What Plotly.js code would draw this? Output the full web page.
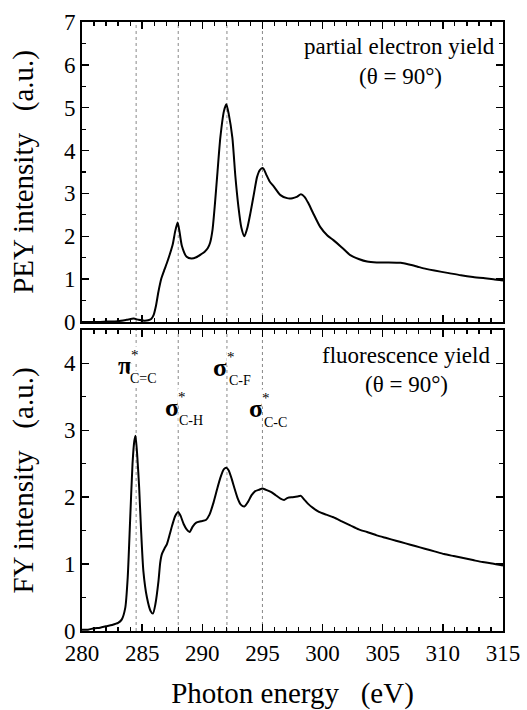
<!DOCTYPE html>
<html>
<head>
<meta charset="utf-8">
<script src="https://cdn.plot.ly/plotly-3.0.1.min.js"></script>
<style>html,body{margin:0;padding:0;background:#fff;}#chart{width:527px;height:710px;}</style>
</head>
<body>
<div id="chart"></div>
<script>
// ---- data ----
const peyEnergy = [280.0,281.0,282.0,283.0,283.7,284.3,284.7,285.2,285.5,285.75,285.95,286.15,286.35,286.6,286.85,287.05,287.3,287.55,287.75,287.95,288.1,288.3,288.7,289.1,289.5,289.9,290.2,290.45,290.65,290.85,291.05,291.25,291.5,291.8,292.0,292.2,292.5,292.75,293.0,293.25,293.5,293.75,294.0,294.3,294.55,294.8,295.05,295.3,295.6,295.95,296.5,297.05,297.5,297.85,298.2,298.5,298.8,299.2,299.8,300.4,300.9,301.6,302.3,303.0,303.7,304.5,305.5,306.5,307.2,307.9,308.6,309.3,310.5,311.5,312.5,313.5,314.2,315.0];
const peyIntensity = [0.00,0.00,0.01,0.02,0.05,0.08,0.05,0.03,0.04,0.07,0.16,0.38,0.70,1.02,1.22,1.37,1.58,1.82,2.12,2.32,2.12,1.78,1.52,1.48,1.51,1.58,1.64,1.72,1.85,2.15,2.75,3.45,4.30,4.92,5.08,4.85,4.30,3.40,2.70,2.20,2.00,2.20,2.54,3.00,3.38,3.55,3.59,3.45,3.28,3.16,2.96,2.89,2.89,2.92,2.98,2.92,2.78,2.55,2.22,2.02,1.91,1.74,1.56,1.47,1.41,1.39,1.39,1.38,1.34,1.29,1.24,1.20,1.14,1.09,1.05,1.02,1.00,0.97];

const fyEnergy = [280.0,280.5,281.0,281.5,282.0,282.5,283.0,283.3,283.6,283.8,284.0,284.2,284.35,284.45,284.6,284.75,284.9,285.1,285.4,285.7,285.9,286.1,286.36,286.5,286.64,286.85,287.06,287.3,287.5,287.75,288.0,288.2,288.45,288.7,288.95,289.2,289.5,289.9,290.3,290.6,290.9,291.2,291.5,291.8,292.0,292.2,292.4,292.7,292.95,293.2,293.5,293.8,294.1,294.4,294.7,295.0,295.3,295.7,296.1,296.5,296.8,297.1,297.5,297.9,298.2,298.5,298.8,299.2,299.7,300.3,300.9,301.6,302.3,303.0,303.7,304.5,305.3,306.1,306.9,307.7,308.5,309.3,310.1,310.9,311.7,312.5,313.3,314.1,315.0];
const fyIntensity = [0.02,0.02,0.04,0.05,0.07,0.09,0.12,0.17,0.35,0.80,1.65,2.50,2.84,2.92,2.60,2.15,1.55,0.90,0.50,0.30,0.26,0.40,0.75,1.02,1.15,1.23,1.30,1.45,1.58,1.72,1.78,1.72,1.60,1.52,1.48,1.56,1.62,1.64,1.66,1.74,1.90,2.10,2.29,2.42,2.44,2.40,2.30,2.12,1.98,1.89,1.86,1.93,2.03,2.09,2.11,2.13,2.11,2.08,2.03,1.98,1.96,1.99,2.00,2.01,2.02,1.96,1.90,1.84,1.78,1.74,1.70,1.64,1.58,1.52,1.48,1.43,1.39,1.35,1.31,1.27,1.23,1.19,1.15,1.12,1.09,1.06,1.03,1.01,0.98];

// resonance positions (eV) and their labels
const resonanceEnergy = [284.5, 288.0, 292.05, 295.0];
const resonanceSymbol = ['\u03c0', '\u03c3', '\u03c3', '\u03c3'];
const resonanceSub = ['C=C', 'C-H', 'C-F', 'C-C'];

const xTickVals = [280, 285, 290, 295, 300, 305, 310, 315];
const peyTickVals = [0, 1, 2, 3, 4, 5, 6, 7];
const fyTickVals = [0, 1, 2, 3, 4];

// ---- styling ----
const FONT = '"Liberation Serif", "Times New Roman", serif';
const axisCommon = {
  showline: true, linecolor: '#000', linewidth: 2, mirror: 'ticks',
  ticks: 'inside', ticklen: 7, tickwidth: 1.5, tickcolor: '#000',
  showgrid: false, zeroline: false,
  tickfont: {family: FONT, size: 23, color: '#000'}
};

const traces = [
  {x: fyEnergy, y: fyIntensity, xaxis: 'x', yaxis: 'y', mode: 'lines',
   line: {color: '#000', width: 2, shape: 'spline', smoothing: 0.6}, hoverinfo: 'skip'},
  {x: peyEnergy, y: peyIntensity, xaxis: 'x2', yaxis: 'y2', mode: 'lines',
   line: {color: '#000', width: 2, shape: 'spline', smoothing: 0.6}, hoverinfo: 'skip'}
];

const shapes = [];
resonanceEnergy.forEach(e => {
  [['x', 'y domain'], ['x2', 'y2 domain']].forEach(([xr, yr]) => {
    shapes.push({type: 'line', xref: xr, yref: yr, x0: e, x1: e, y0: 0, y1: 1,
      line: {color: '#888', width: 1, dash: 'dot'}, layer: 'below'});
  });
});

// label placement
const labelY = [3.97, 3.34, 3.94, 3.32];
const annotations = [];
resonanceEnergy.forEach((e, i) => {
  const sx = i === 0 ? e - 0.95 : e - 0.55;
  annotations.push({xref: 'x', yref: 'y', x: sx, y: labelY[i], text: '<b>' + resonanceSymbol[i] + '</b>',
    showarrow: false, xanchor: 'center', yanchor: 'middle',
    font: {family: FONT, size: 26, color: '#000'}});
  annotations.push({xref: 'x', yref: 'y', x: sx + 0.85, y: labelY[i] + 0.16, text: '*',
    showarrow: false, xanchor: 'center', yanchor: 'middle', bgcolor: '#fff', borderpad: 0,
    font: {family: FONT, size: 15, color: '#000'}});
  annotations.push({xref: 'x', yref: 'y', x: sx + 1.6, y: labelY[i] - 0.2, text: resonanceSub[i],
    showarrow: false, xanchor: 'center', yanchor: 'middle', bgcolor: '#fff', borderpad: 0,
    font: {family: FONT, size: 14, color: '#000'}});
});

annotations.push(
  {xref: 'x2', yref: 'y2', x: 314.5, y: 6.42, text: 'partial electron yield', showarrow: false,
   xanchor: 'right', yanchor: 'middle', font: {family: FONT, size: 23, color: '#000'}},
  {xref: 'x2', yref: 'y2', x: 306.5, y: 5.72, text: '(\u03b8 = 90\u00b0)', showarrow: false,
   xanchor: 'center', yanchor: 'middle', font: {family: FONT, size: 23, color: '#000'}},
  {xref: 'x', yref: 'y', x: 314.06, y: 4.12, text: 'fluorescence yield', showarrow: false,
   xanchor: 'right', yanchor: 'middle', font: {family: FONT, size: 23, color: '#000'}},
  {xref: 'x', yref: 'y', x: 307.0, y: 3.69, text: '(\u03b8 = 90\u00b0)', showarrow: false,
   xanchor: 'center', yanchor: 'middle', font: {family: FONT, size: 23, color: '#000'}}
);

const SP = '\u00a0\u00a0\u00a0';
const layout = {
  width: 527, height: 710,
  margin: {l: 82, r: 24, t: 22, b: 79},
  paper_bgcolor: '#fff', plot_bgcolor: '#fff',
  showlegend: false,
  font: {family: FONT, color: '#000'},
  xaxis: Object.assign({}, axisCommon, {
    anchor: 'y', domain: [0, 1], range: [280, 315], tickvals: xTickVals,
    minor: {dtick: 1, ticklen: 4, ticks: 'inside', tickwidth: 1.2, tickcolor: '#000'},
    title: {text: 'Photon energy' + SP + '(eV)', font: {family: FONT, size: 29, color: '#000'}, standoff: 19}
  }),
  xaxis2: Object.assign({}, axisCommon, {
    anchor: 'y2', matches: 'x', range: [280, 315], tickvals: xTickVals, showticklabels: false,
    minor: {dtick: 1, ticklen: 4, ticks: 'inside', tickwidth: 1.2, tickcolor: '#000'}
  }),
  yaxis: Object.assign({}, axisCommon, {
    anchor: 'x', domain: [0, 0.4943], range: [0, 4.5], tickvals: fyTickVals,
    minor: {dtick: 0.5, ticklen: 4, ticks: 'inside', tickwidth: 1.2, tickcolor: '#000'},
    title: {text: 'FY intensity' + SP + '(a.u.)', font: {family: FONT, size: 29, color: '#000'}, standoff: 22}
  }),
  yaxis2: Object.assign({}, axisCommon, {
    anchor: 'x2', domain: [0.5074, 1], range: [0, 7], tickvals: peyTickVals,
    minor: {dtick: 0.5, ticklen: 4, ticks: 'inside', tickwidth: 1.2, tickcolor: '#000'},
    title: {text: 'PEY intensity' + SP + '(a.u.)', font: {family: FONT, size: 29, color: '#000'}, standoff: 22}
  }),
  shapes: shapes,
  annotations: annotations
};

Plotly.newPlot('chart', traces, layout, {displayModeBar: false, staticPlot: true});
</script>
</body>
</html>
